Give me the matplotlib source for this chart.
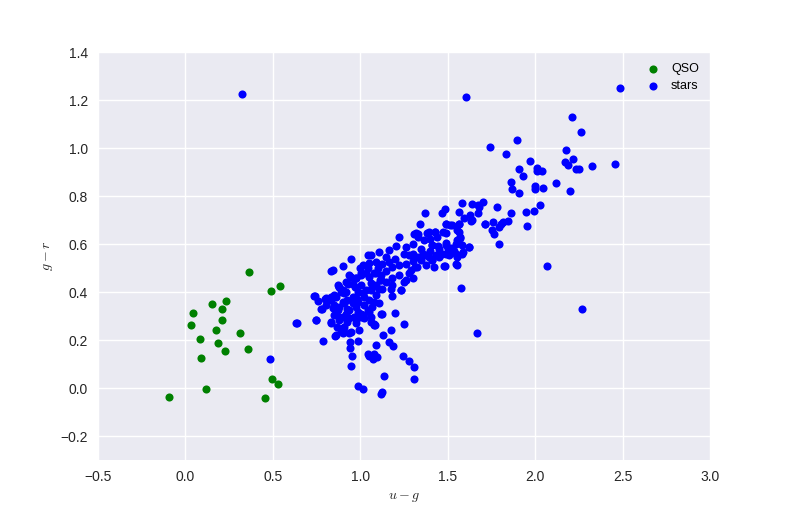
import matplotlib
matplotlib.use("Agg")
import matplotlib.pyplot as plt

# colour indices
qso_ug = [0.366, 0.488, 0.541, 0.152, 0.232, 0.21, 0.042, 0.034, 0.211, 0.173,
          0.314, 0.082, 0.189, 0.227, 0.358, 0.091, 0.493, 0.531, 0.12, -0.091,
          0.455]
qso_gr = [0.482, 0.403, 0.425, 0.349, 0.364, 0.328, 0.313, 0.265, 0.283, 0.242,
          0.228, 0.207, 0.19, 0.153, 0.163, 0.125, 0.038, 0.019, -0.004, -0.038,
          -0.04]

stars_ug = [
    # sparse / outliers
    0.326, 1.606, 0.632, 0.486, 0.747, 0.785, 0.833, 0.857, 0.903, 0.943,
    0.985, 0.943, 0.952, 0.95, 0.989, 1.013, 1.042, 1.051, 1.08, 1.093,
    1.074, 1.09, 1.131, 1.124, 1.086, 1.166, 1.185, 1.177, 1.2, 1.251,
    1.137, 1.127, 1.118, 1.242, 1.276, 1.307, 1.305, 1.575, 1.665, 0.737,
    0.777, 0.8,
    # upper right
    2.484, 2.21, 2.261, 1.897, 1.741, 1.832, 2.179, 1.971, 1.909, 1.933,
    2.013, 2.008, 2.038, 2.171, 2.19, 2.217, 2.232, 2.251, 2.324, 2.457,
    1.861, 1.867, 1.905, 1.998, 2.0, 2.042, 2.118, 2.2, 1.699, 1.68,
    1.779, 2.029, 1.994, 1.95, 1.859, 1.842, 1.817, 1.714, 1.76, 1.804,
    1.794, 1.752, 1.766, 1.794, 1.956, 2.067, 2.269,
    # upper band
    1.674, 1.638, 1.579, 1.671, 1.627, 1.594, 1.638, 1.566, 1.484, 1.467,
    1.37, 1.49, 1.513, 1.566, 1.566, 1.572, 1.556, 1.623, 1.585, 1.309,
    1.332, 1.366, 1.394, 1.429, 1.436, 1.49,
    1.413, 1.49, 1.518, 1.537, 1.556, 1.49, 1.452, 1.413, 1.375, 1.337,
    1.299, 1.551, 1.48, 1.423, 1.314, 1.28, 1.299, 1.261, 1.233,
    # main band
    1.341, 1.333, 1.318, 1.384, 1.428, 1.489, 1.527, 1.565, 1.632, 1.714,
    1.474, 1.556, 1.569, 1.489, 1.442, 1.413, 1.584, 1.623, 1.546, 1.508,
    1.47, 1.432, 1.394, 1.356, 1.318, 1.28, 1.261, 1.223, 1.204, 1.165,
    1.146, 1.108, 1.061, 1.042, 1.017, 0.946, 0.904, 0.845, 0.832, 1.047,
    1.089, 1.127, 1.165, 1.184, 1.223, 1.261, 1.289, 1.327, 1.375, 1.346,
    1.413, 1.482, 1.546, 1.584, 0.937, 0.975, 0.956, 0.918, 0.88, 0.899,
    1.004, 1.051, 1.089, 1.118, 1.146, 1.108, 1.07, 1.032, 1.004, 0.985,
    1.023, 1.051, 1.089, 1.127, 1.184, 1.223, 1.251, 1.232, 1.175, 1.184,
    0.956, 0.927, 0.899, 0.861, 0.832, 0.804, 0.842, 0.88, 0.927, 0.975,
    1.023, 1.07, 1.108, 1.051, 1.013, 0.965, 0.918, 0.88, 0.851, 0.87,
    0.88, 0.899, 0.927, 0.975, 1.004, 1.061, 1.08, 0.994, 0.937,
    # lower-left dense part
    0.638, 0.741, 0.756, 0.779, 0.747, 0.804, 0.833, 0.852, 0.88, 0.871,
    0.928, 0.947, 0.975, 1.004, 1.033, 1.08, 1.114, 0.871, 0.833, 0.861,
    0.89, 0.947, 0.909, 0.937, 0.975, 1.023, 1.08, 1.118, 1.061, 1.004,
    1.042, 0.956, 0.909, 0.985, 1.08, 1.013, 1.061, 1.09, 0.909, 0.89,
    0.937, 0.985, 0.899, 0.852,
    # filling inside the crowded band
    1.0, 1.05, 1.1, 1.15, 1.2, 1.25, 1.3, 1.35, 1.4, 1.45,
    1.5, 1.55, 1.3, 1.4, 1.12, 0.97, 0.92, 1.06, 1.18, 0.98,
]
stars_gr = [
    # sparse / outliers
    1.225, 1.213, 0.271, 0.12, 0.286, 0.197, 0.274, 0.218, 0.23, 0.193,
    0.196, 0.168, 0.133, 0.092, 0.008, -0.005, 0.144, 0.133, 0.142, 0.13,
    0.12, 0.179, 0.221, 0.311, 0.263, 0.193, 0.176, 0.242, 0.314, 0.267,
    0.05, -0.015, -0.022, 0.133, 0.114, 0.089, 0.04, 0.418, 0.232, 0.383,
    0.332, 0.37,
    # upper right
    1.249, 1.128, 1.068, 1.034, 1.003, 0.974, 0.992, 0.948, 0.914, 0.884,
    0.916, 0.906, 0.906, 0.943, 0.929, 0.953, 0.911, 0.914, 0.925, 0.932,
    0.86, 0.828, 0.811, 0.842, 0.828, 0.832, 0.853, 0.821, 0.777, 0.756,
    0.753, 0.763, 0.739, 0.735, 0.728, 0.697, 0.693, 0.686, 0.693, 0.686,
    0.672, 0.659, 0.641, 0.599, 0.675, 0.51, 0.328,
    # upper band
    0.765, 0.769, 0.772, 0.731, 0.721, 0.711, 0.7, 0.735, 0.746, 0.728,
    0.728, 0.686, 0.679, 0.686, 0.651, 0.628, 0.619, 0.589, 0.568, 0.644,
    0.628, 0.617, 0.651, 0.651, 0.628, 0.647,
    0.596, 0.596, 0.582, 0.572, 0.547, 0.561, 0.547, 0.533, 0.554, 0.547,
    0.561, 0.513, 0.508, 0.503, 0.506, 0.478, 0.457, 0.45, 0.411,
    # main band
    0.683, 0.644, 0.647, 0.647, 0.651, 0.683, 0.679, 0.683, 0.697, 0.683,
    0.651, 0.658, 0.624, 0.603, 0.592, 0.596, 0.596, 0.589, 0.561, 0.554,
    0.561, 0.554, 0.547, 0.561, 0.547, 0.554, 0.589, 0.631, 0.592, 0.575,
    0.547, 0.568, 0.554, 0.554, 0.513, 0.54, 0.508, 0.494, 0.489, 0.499,
    0.526, 0.519, 0.526, 0.506, 0.513, 0.519, 0.492, 0.506, 0.513, 0.533,
    0.536, 0.508, 0.517, 0.561, 0.471, 0.457, 0.436, 0.443, 0.422, 0.408,
    0.478, 0.464, 0.478, 0.45, 0.443, 0.415, 0.422, 0.408, 0.429, 0.401,
    0.381, 0.367, 0.388, 0.415, 0.457, 0.471, 0.443, 0.408, 0.415, 0.383,
    0.381, 0.367, 0.36, 0.381, 0.367, 0.346, 0.336, 0.339, 0.332, 0.339,
    0.346, 0.339, 0.353, 0.318, 0.304, 0.297, 0.311, 0.297, 0.304, 0.256,
    0.283, 0.249, 0.276, 0.283, 0.297, 0.297, 0.269, 0.242, 0.228,
    # lower-left dense part
    0.272, 0.384, 0.364, 0.332, 0.286, 0.374, 0.381, 0.388, 0.423, 0.43,
    0.436, 0.464, 0.457, 0.471, 0.481, 0.478, 0.45, 0.325, 0.273, 0.221,
    0.242, 0.235, 0.256, 0.291, 0.27, 0.291, 0.263, 0.311, 0.277, 0.311,
    0.325, 0.353, 0.353, 0.36, 0.36, 0.395, 0.409, 0.43, 0.395, 0.402,
    0.325, 0.318, 0.298, 0.346,
    # filling inside the crowded band
    0.5, 0.52, 0.5, 0.49, 0.54, 0.56, 0.53, 0.58, 0.57, 0.58,
    0.58, 0.6, 0.6, 0.62, 0.47, 0.42, 0.4, 0.44, 0.43, 0.37,
]

x_ticks = [-0.5, 0.0, 0.5, 1.0, 1.5, 2.0, 2.5, 3.0]
y_ticks = [-0.2, 0.0, 0.2, 0.4, 0.6, 0.8, 1.0, 1.2, 1.4]

plt.rcParams["font.family"] = ["Liberation Sans", "DejaVu Sans"]
plt.rcParams["mathtext.fontset"] = "cm"

fig, ax = plt.subplots(figsize=(7.89, 5.26), dpi=100)
fig.subplots_adjust(left=0.124, right=0.9, bottom=0.125, top=0.901)

ax.set_facecolor("#EAEAF2")
ax.grid(True, color="white", linewidth=1.0)
ax.set_axisbelow(True)
for spine in ax.spines.values():
    spine.set_visible(False)

ax.scatter(qso_ug, qso_gr, s=34, c="green", linewidths=0, label="QSO")
ax.scatter(stars_ug, stars_gr, s=34, c="blue", linewidths=0, label="stars")

ax.set_xlim(-0.5, 3.0)
ax.set_ylim(-0.3, 1.4)
ax.set_xticks(x_ticks)
ax.set_yticks(y_ticks)
ax.tick_params(length=0, pad=7, labelsize=10, labelcolor="#262626")

ax.set_xlabel("$u-g$", fontsize=10, color="#262626")
ax.set_ylabel("$g-r$", fontsize=10, color="#262626")

ax.legend(loc="upper right", frameon=False, scatterpoints=1, fontsize=9,
          handletextpad=0.4, labelspacing=0.4)

plt.savefig("out.png", dpi=100)
